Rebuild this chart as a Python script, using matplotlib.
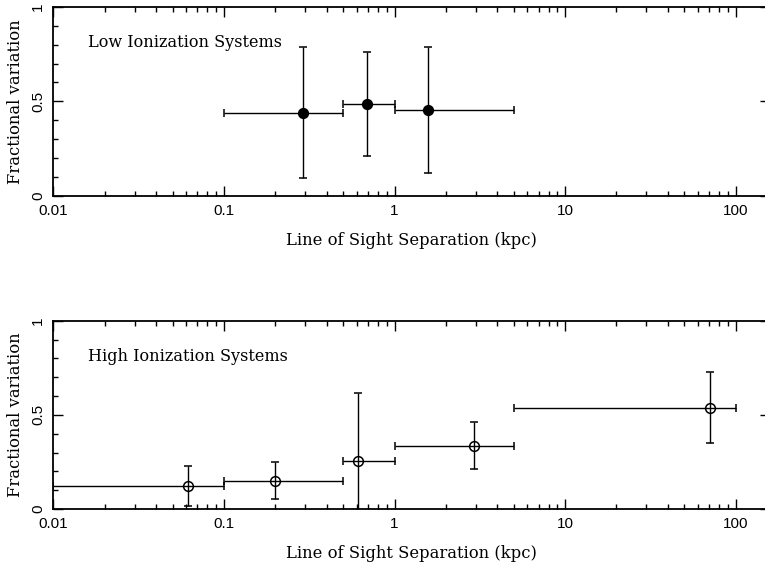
import numpy as np
import matplotlib
matplotlib.use('Agg')
import matplotlib.pyplot as plt
from matplotlib.ticker import FixedLocator, MultipleLocator, LogLocator, NullFormatter

# low ionization systems (filled circles)
low_x = [0.29, 0.69, 1.57]
low_xlo = [0.1, 0.5, 1.0]
low_xhi = [0.5, 1.0, 5.0]
low_y = [0.44, 0.485, 0.455]
low_yerr = [0.347, 0.275, 0.335]

# high ionization systems (open circles)
high_x = [0.062, 0.2, 0.614, 2.94, 71.0]
high_xlo = [0.01, 0.1, 0.5, 1.0, 5.0]
high_xhi = [0.1, 0.5, 1.0, 5.0, 100.0]
high_y = [0.122, 0.150, 0.256, 0.336, 0.538]
high_yerr = [0.105, 0.098, 0.358, 0.125, 0.19]

panel_titles = ['Low Ionization Systems', 'High Ionization Systems']
xticks = [0.01, 0.1, 1, 10, 100]
xticklabels = ['0.01', '0.1', '1', '10', '100']
yticks = [0, 0.5, 1]
yticklabels = ['0', '0.5', '1']

SERIF = 'DejaVu Serif'
SANS = 'Liberation Sans'

W, H = 765, 566
fig = plt.figure(figsize=(W / 100, H / 100), dpi=100, facecolor='white')

# pixel boxes: left, top, right, bottom (right spine sits just off the image)
boxes = [(53.3, 7.0, 769.5, 195.7), (53.3, 320.7, 769.5, 509.0)]
datasets = [
    (low_x, low_xlo, low_xhi, low_y, low_yerr, 'black'),
    (high_x, high_xlo, high_xhi, high_y, high_yerr, 'none'),
]

for (l, t, r, b), (x, xlo, xhi, y, yerr, fc), title in zip(boxes, datasets, panel_titles):
    ax = fig.add_axes([l / W, 1 - b / H, (r - l) / W, (b - t) / H])
    x = np.array(x)
    xe = [x - np.array(xlo), np.array(xhi) - x]
    ax.errorbar(x, y, xerr=xe, yerr=yerr, fmt='o', ms=7, mfc=fc, mec='black',
                mew=1.1, ecolor='black', elinewidth=1.0, capsize=3, capthick=1.0,
                color='black', clip_on=True)
    ax.set_xscale('log')
    ax.set_xlim(0.01, 10 ** (2 + (r - 53.3 - 4 * 170.6) / 170.6))
    ax.set_ylim(0, 1)
    ax.xaxis.set_major_locator(FixedLocator(xticks))
    ax.set_xticklabels(xticklabels, fontfamily=SANS, fontsize=11)
    ax.xaxis.set_minor_locator(LogLocator(base=10, subs=np.arange(2, 10)))
    ax.xaxis.set_minor_formatter(NullFormatter())
    ax.yaxis.set_major_locator(FixedLocator(yticks))
    ax.set_yticklabels(yticklabels, fontfamily=SANS, fontsize=11,
                       rotation=90, va='center')
    ax.yaxis.set_minor_locator(MultipleLocator(0.1))
    ax.tick_params(which='both', direction='in', top=True, right=True, width=1.0)
    ax.tick_params(which='major', length=7, pad=6)
    ax.tick_params(which='minor', length=3.5)
    for s in ax.spines.values():
        s.set_linewidth(1.3)
    ax.set_xlabel('Line of Sight Separation (kpc)', fontfamily=SERIF, fontsize=11.8,
                  labelpad=10)
    ax.set_ylabel('Fractional variation', fontfamily=SERIF, fontsize=11.8, labelpad=5)
    ax.text(0.049, 0.81, title, transform=ax.transAxes, fontfamily=SERIF,
            fontsize=11.6, va='center', ha='left')

fig.savefig('out.png', dpi=100, facecolor='white')
